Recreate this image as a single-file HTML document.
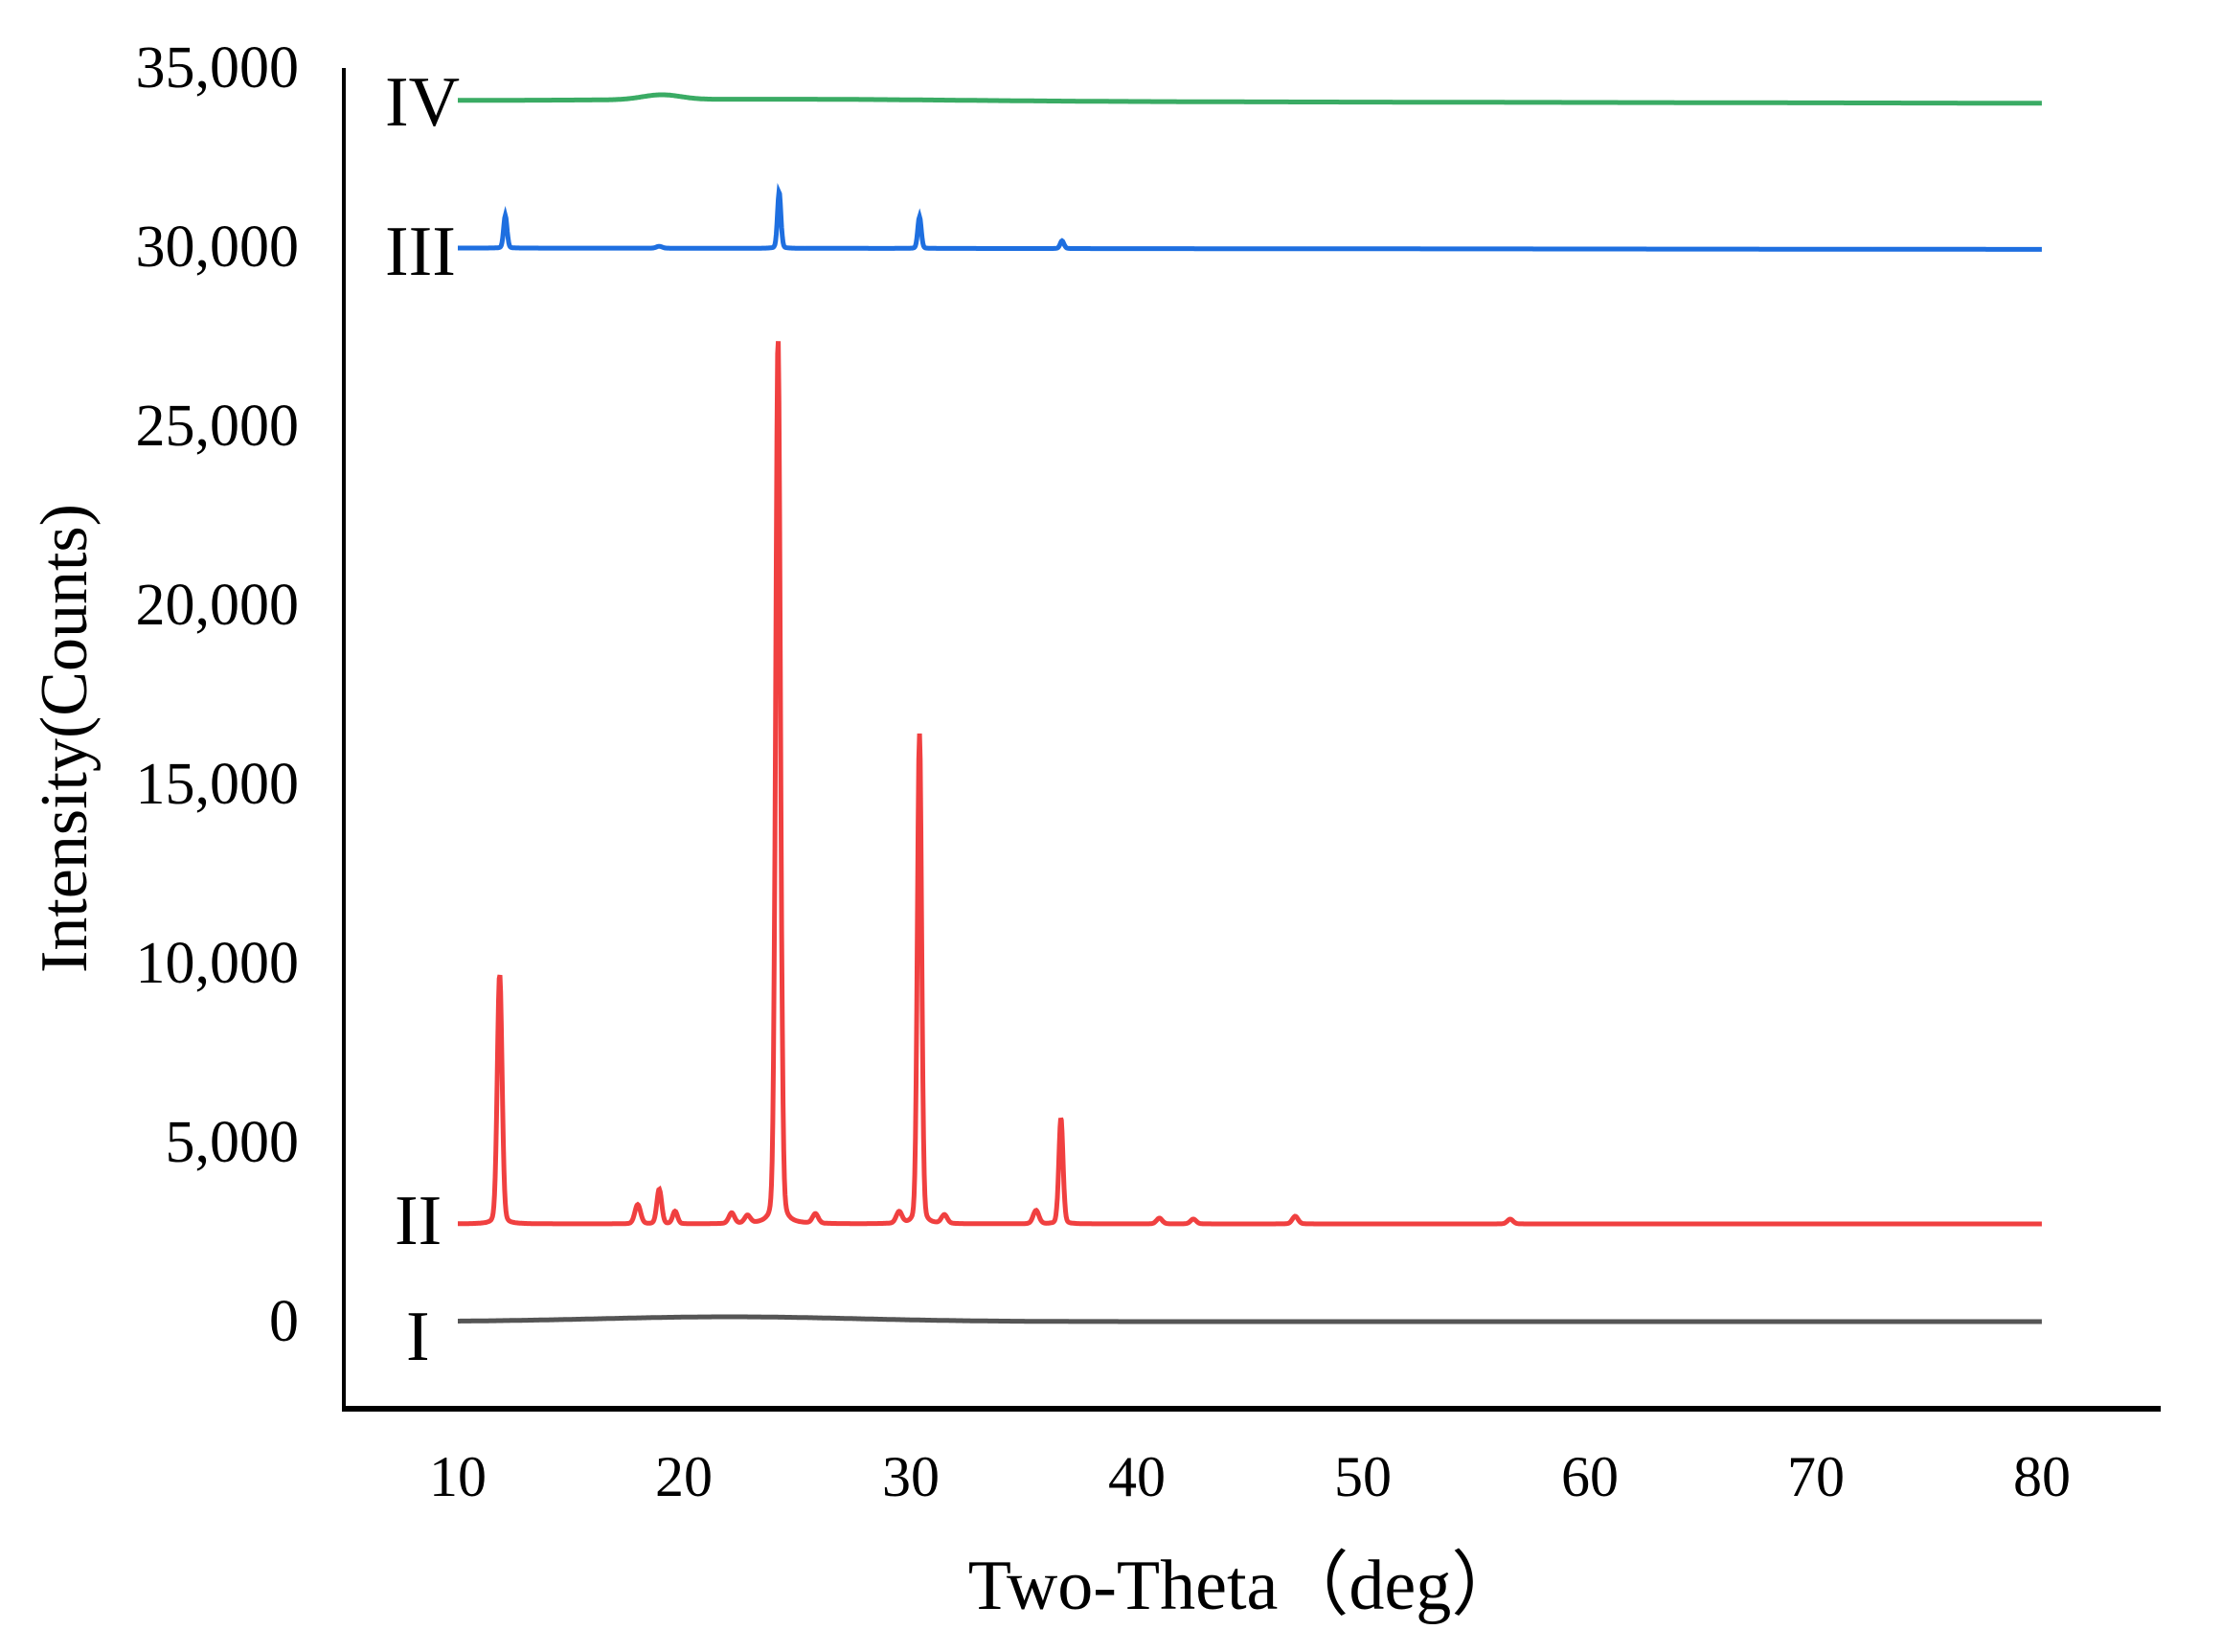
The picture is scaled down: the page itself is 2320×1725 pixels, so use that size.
<!DOCTYPE html>
<html><head><meta charset="utf-8"><style>
html,body{margin:0;padding:0;background:#fff}
svg text{font-family:"Liberation Serif",serif;fill:#000}
</style></head><body>
<svg id="s" width="2320" height="1720" viewBox="0 0 2320 1720" xmlns="http://www.w3.org/2000/svg">
<line x1="359" y1="71" x2="359" y2="1473" stroke="#000" stroke-width="4"/>
<line x1="357" y1="1471" x2="2256" y2="1471" stroke="#000" stroke-width="6"/>
<g font-size="62" text-anchor="end">
<text x="312" y="91">35,000</text>
<text x="312" y="278">30,000</text>
<text x="312" y="465">25,000</text>
<text x="312" y="652">20,000</text>
<text x="312" y="839">15,000</text>
<text x="312" y="1026">10,000</text>
<text x="312" y="1213">5,000</text>
<text x="312" y="1400">0</text>
</g>
<g font-size="60" text-anchor="middle">
<text x="478" y="1562">10</text>
<text x="714" y="1562">20</text>
<text x="951" y="1562">30</text>
<text x="1187" y="1562">40</text>
<text x="1423" y="1562">50</text>
<text x="1660" y="1562">60</text>
<text x="1896" y="1562">70</text>
<text x="2132" y="1562">80</text>
</g>
<text x="1300" y="1680" font-size="74" text-anchor="middle">Two-Theta（deg）</text>
<text transform="translate(90,771) rotate(-90)" font-size="70" text-anchor="middle">Intensity(Counts)</text>
<g font-size="74">
<text x="402" y="131">IV</text>
<text x="402" y="287">III</text>
<text x="412" y="1299">II</text>
<text x="424" y="1420">I</text>
</g>
<g id="g" fill="none" stroke-width="5" stroke-linejoin="miter"></g>
</svg>
<script>
function X(d){return 478+(d-10)*23.63;}
function build(base,peaks,col){
  var pts=[];
  for(var d=10;d<=80.001;d+=0.03){
    var y=base(d);
    for(var i=0;i<peaks.length;i++){var p=peaks[i];var t=(d-p[0])/p[2];y-=p[1]*(0.85*Math.exp(-t*t*2.77)+0.15/(1+t*t*4));}
    pts.push(X(d).toFixed(1)+","+y.toFixed(1));
  }
  var e=document.createElementNS("http://www.w3.org/2000/svg","polyline");
  e.setAttribute("points",pts.join(" "));e.setAttribute("stroke",col);
  document.getElementById("g").appendChild(e);
}
build(function(d){return 1380-5*Math.exp(-Math.pow((d-22)/8,2));},[],"#555555");
build(function(d){return 1278;},[
[11.85,261,0.25],[17.95,20,0.3],[18.9,36,0.25],[19.6,13,0.25],[22.1,11,0.3],[22.8,8,0.3],[25.8,10,0.3],
[24.15,926,0.25],[29.5,12,0.3],[30.4,512,0.22],[31.5,9,0.3],[35.55,14,0.3],[36.65,111,0.22],[41,6,0.3],[42.5,5,0.3],[47,8,0.3],[56.5,5,0.3]
],"#f04040");
build(function(d){return 259+(d-10)*0.02;},[[12.1,34,0.18],[24.2,59,0.18],[30.4,33,0.18],[36.7,8,0.2],[18.9,2,0.3]],"#1e6fe0");
build(function(d){return 105-2*Math.exp(-Math.pow((d-25)/10,2))-5*Math.exp(-Math.pow((d-19)/1.2,2))+(d-10)*0.04;},[],"#3aab64");
</script>
</body></html>
